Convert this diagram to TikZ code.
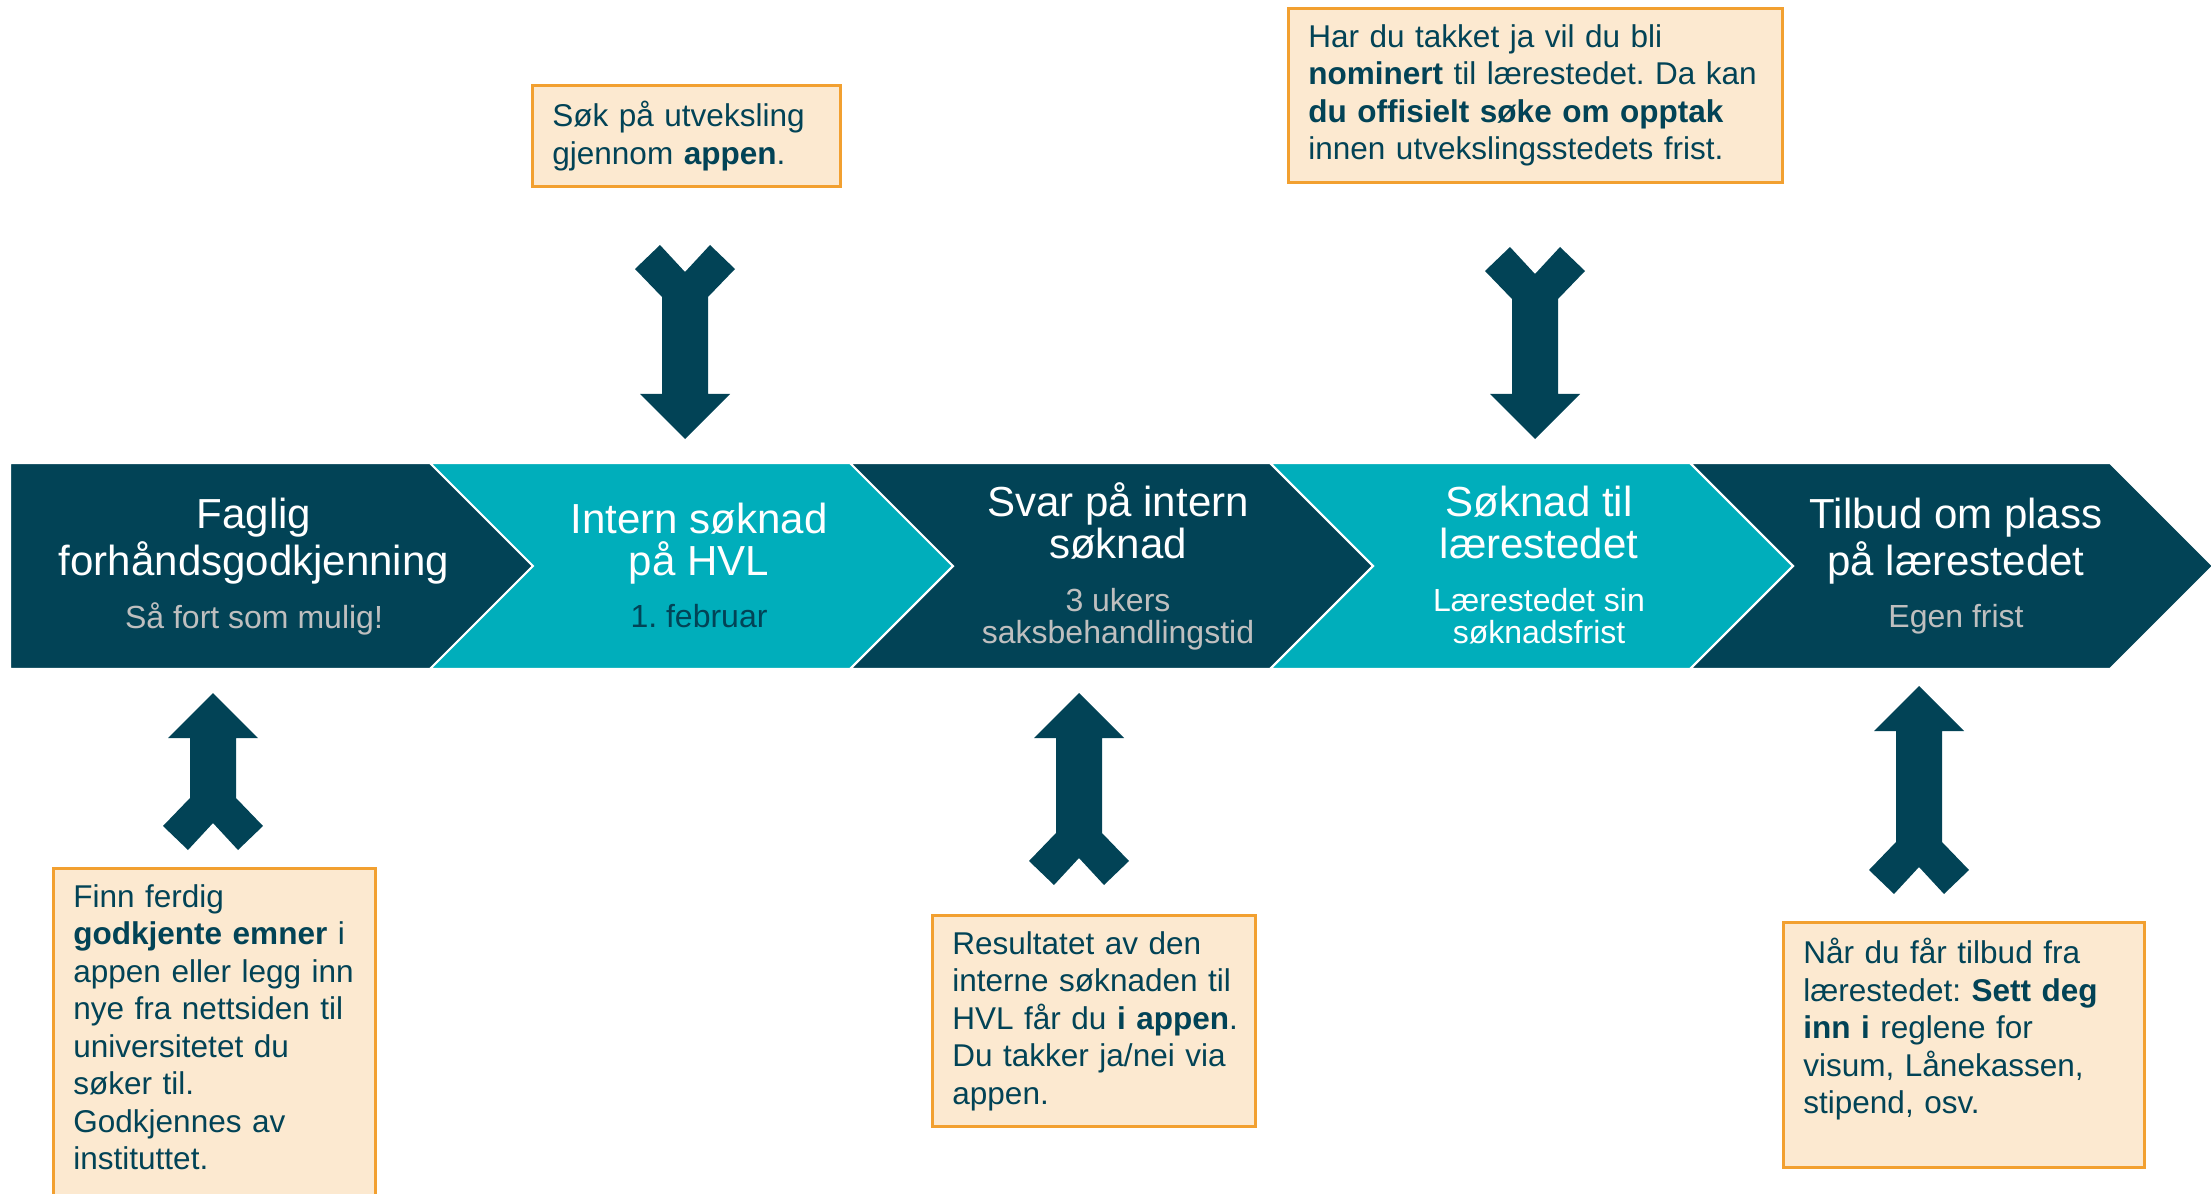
\documentclass[tikz,border=0pt]{standalone}
\usepackage{fontspec}
\setmainfont{Liberation Sans}
\frenchspacing
\hyphenpenalty=10000

\definecolor{hvldark}{HTML}{024356}
\definecolor{hvlteal}{HTML}{00AEBB}
\definecolor{notefill}{HTML}{FCE9D0}
\definecolor{noteline}{HTML}{F2A030}
\definecolor{subgray}{HTML}{BFBFBF}

% Y-formet pil: x og y for spissen, lengde, retning (1 = opp, -1 = ned)
\newcommand{\forkarrow}[4]{%
  \fill[hvldark, shift={(#1,#2)}, yscale=#4]
    (0,0) -- (45,45) -- (23,45) -- (23,{#3-52}) -- (50,{#3-24}) -- (25,#3)
    -- (0,{#3-27}) -- (-25,#3) -- (-50,{#3-24}) -- (-23,{#3-52}) -- (-23,45)
    -- (-45,45) -- cycle;}

\begin{document}
\begin{tikzpicture}[x=0.01cm, y=-0.01cm,
    ttl/.style={anchor=base, align=center, text=white, inner sep=0pt,
      font=\fontsize{11.95}{11.7}\selectfont},
    sub/.style={anchor=base, align=center, inner sep=0pt,
      font=\fontsize{9.1}{8.95}\selectfont},
    note/.style={anchor=north west, align=left, fill=notefill, draw=noteline,
      line width=0.8pt, text=hvldark, inner xsep=2mm, inner ysep=1.6mm,
      font=\fontsize{8.96}{10.67}\selectfont}]
        \useasboundingbox (0,0) rectangle (2211,1194);

        % pilene i tidslinjen
        \filldraw[fill=hvldark, draw=white, line width=0.6pt] (10,463) -- (430,463) -- (533,566) -- (430,669) -- (10,669) -- cycle;
        \filldraw[fill=hvlteal, draw=white, line width=0.6pt] (430,463) -- (850,463) -- (953,566) -- (850,669) -- (430,669) -- (533,566) -- cycle;
        \filldraw[fill=hvldark, draw=white, line width=0.6pt] (850,463) -- (1270,463) -- (1373,566) -- (1270,669) -- (850,669) -- (953,566) -- cycle;
        \filldraw[fill=hvlteal, draw=white, line width=0.6pt] (1270,463) -- (1690,463) -- (1793,566) -- (1690,669) -- (1270,669) -- (1373,566) -- cycle;
        \filldraw[fill=hvldark, draw=white, line width=0.6pt] (1690,463) -- (2110,463) -- (2213,566) -- (2110,669) -- (1690,669) -- (1793,566) -- cycle;

        \node[ttl] (faglig) at (254,575) {Faglig\\forhåndsgodkjenning};
        \node[sub, text=subgray] (faglig-frist) at (254,628) {Så fort som mulig!};
        \node[ttl] (intern) at (699,575) {Intern søknad\\på HVL};
        \node[sub, text=hvldark] (intern-frist) at (699,627) {1. februar};
        \node[ttl] (svar) at (1118,558) {Svar på intern\\søknad};
        \node[sub, text=subgray] (svar-tid) at (1118,643) {3 ukers\\saksbehandlingstid};
        \node[ttl] (laerested) at (1539,558) {Søknad til\\lærestedet};
        \node[sub, text=white] (laerested-frist) at (1539,643) {Lærestedet sin\\søknadsfrist};
        \node[ttl] (tilbud) at (1956,575) {Tilbud om plass\\på lærestedet};
        \node[sub, text=subgray] (tilbud-frist) at (1956,627) {Egen frist};

        % merknader
        \node[note, text width=2.68cm] (soek) at (531,84) {Søk på utveksling\\gjennom \textbf{appen}.};
        \node[note, text width=4.54cm] (nominert) at (1287,7) {Har du takket ja vil du bli\\\textbf{nominert} til lærestedet. Da kan\\\textbf{du offisielt søke om opptak}\\innen utvekslingsstedets frist.};
        \node[note, text width=2.82cm] (emner) at (52,867) {Finn ferdig\\\textbf{godkjente emner} i\\appen eller legg inn\\nye fra nettsiden til\\universitetet du\\søker til.\\Godkjennes av\\instituttet.\\~};
        \node[note, text width=2.83cm] (resultat) at (931,914) {Resultatet av den\\interne søknaden til\\\mbox{HVL får du \textbf{i appen}.}\\Du takker ja/nei via\\appen.};
        \node[note, text width=3.21cm] (regler) at (1782,921) {Når du får tilbud fra\\lærestedet: \textbf{Sett deg}\\\textbf{inn i} reglene for\\visum, Lånekassen,\\stipend, osv.\\~};

        \forkarrow{685}{439}{194}{-1}
        \forkarrow{1535}{439}{192}{-1}
        \forkarrow{213}{693}{157}{1}
        \forkarrow{1079}{693}{192}{1}
        \forkarrow{1919}{686}{208}{1}
    \end{tikzpicture}
\end{document}
